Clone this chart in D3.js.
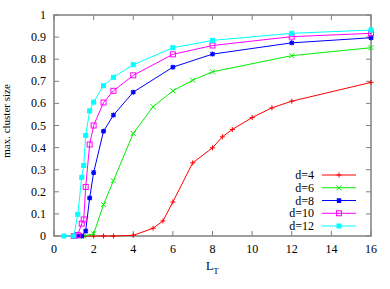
<!DOCTYPE html>
<meta charset="utf-8">
<head>
  <title>max. cluster size</title>
</head>

<style>
body { margin: 0; background: #fff; }
text { font-family: "Liberation Serif", "DejaVu Serif", serif; fill: #000; }
.frame { fill: none; stroke: #808080; stroke-width: 1.5; }
.tick { stroke: #808080; stroke-width: 1; }
.series { fill: none; stroke-width: 1; }
</style>

<body>
  <svg width="390" height="289"></svg>

  <script src="https://cdnjs.cloudflare.com/ajax/libs/d3/7.8.5/d3.min.js"></script>
  <script>

// values
var names = ["d=4", "d=6", "d=8", "d=10", "d=12"];
var colors = ["#ff0000", "#00ee00", "#0000ff", "#ff00ff", "#00ffff"];
var markers = ["plus", "cross", "star", "openSquare", "filledSquare"];

var lt4 = [1.5, 2, 2.5, 3, 4, 5, 5.5, 6, 7, 8, 8.5, 9, 10, 11, 12, 16];
var val4 = [0, 0, 0, 0, 0.003, 0.035, 0.068, 0.154, 0.331, 0.399, 0.449, 0.482, 0.536, 0.58, 0.61, 0.695];

var lt6 = [1.5, 2, 2.5, 3, 4, 5, 6, 7, 8, 12, 16];
var val6 = [0, 0.01, 0.142, 0.25, 0.464, 0.585, 0.657, 0.705, 0.743, 0.816, 0.852];

var lt8 = [1.2, 1.4, 1.6, 1.8, 2, 2.5, 3, 4, 6, 8, 12, 16];
var val8 = [0, 0, 0.023, 0.172, 0.287, 0.474, 0.547, 0.651, 0.764, 0.823, 0.874, 0.897];

var lt10 = [1, 1.2, 1.4, 1.5, 1.6, 1.8, 2, 2.5, 3, 4, 6, 8, 12, 16];
var val10 = [0, 0.005, 0.056, 0.075, 0.222, 0.414, 0.5, 0.604, 0.657, 0.727, 0.822, 0.862, 0.902, 0.917];

var lt12 = [0.5, 1, 1.2, 1.4, 1.5, 1.6, 1.8, 2, 2.5, 3, 4, 6, 8, 12, 16];
var val12 = [0, 0, 0.098, 0.265, 0.319, 0.455, 0.566, 0.606, 0.68, 0.718, 0.775, 0.852, 0.885, 0.917, 0.932];

var xTicks = [0, 2, 4, 6, 8, 10, 12, 14, 16];
var yTicks = [0, 0.1, 0.2, 0.3, 0.4, 0.5, 0.6, 0.7, 0.8, 0.9, 1];

var allLt = [lt4, lt6, lt8, lt10, lt12];
var allVal = [val4, val6, val8, val10, val12];

const series = names.map((n, i) => ({
  name: n,
  color: colors[i],
  marker: markers[i],
  points: allLt[i].map((l, j) => [l, allVal[i][j]])
}));

const pLeft = 54, pRight = 371, pTop = 15, pBottom = 236;

const x = d3.scaleLinear().domain([0, 16]).range([pLeft, pRight]);
const y = d3.scaleLinear().domain([0, 1]).range([pBottom, pTop]);

const svg = d3.select('svg');

// ticks on all four sides, pointing in
const tickLen = 5;
const ticks = svg.append('g');
xTicks.forEach(t => {
  ticks.append('line').attr('class', 'tick')
    .attr('x1', x(t)).attr('x2', x(t)).attr('y1', pBottom).attr('y2', pBottom - tickLen);
  ticks.append('line').attr('class', 'tick')
    .attr('x1', x(t)).attr('x2', x(t)).attr('y1', pTop).attr('y2', pTop + tickLen);
  ticks.append('text')
    .attr('x', x(t)).attr('y', 253)
    .attr('text-anchor', 'middle')
    .attr('font-size', 12)
    .text(t);
});
yTicks.forEach(t => {
  ticks.append('line').attr('class', 'tick')
    .attr('x1', pLeft).attr('x2', pLeft + tickLen).attr('y1', y(t)).attr('y2', y(t));
  ticks.append('line').attr('class', 'tick')
    .attr('x1', pRight).attr('x2', pRight - tickLen).attr('y1', y(t)).attr('y2', y(t));
  ticks.append('text')
    .attr('x', pLeft - 8).attr('y', y(t) + 4)
    .attr('text-anchor', 'end')
    .attr('font-size', 12)
    .text(t);
});

svg.append('rect').attr('class', 'frame')
  .attr('x', pLeft).attr('y', pTop)
  .attr('width', pRight - pLeft).attr('height', pBottom - pTop);

// axis titles
const xl = svg.append('text')
  .attr('x', 206).attr('y', 270)
  .attr('font-size', 12);
xl.append('tspan').text('L');
xl.append('tspan').attr('font-size', 9).attr('dy', 4).text('T');

svg.append('text')
  .attr('transform', 'translate(10,121) rotate(-90)')
  .attr('text-anchor', 'middle')
  .attr('font-size', 11)
  .text('max. cluster size');

function drawMarker(g, type, color) {
  if (type === 'plus') {
    g.append('path').attr('d', 'M-2.5,0H2.5M0,-2.5V2.5').attr('stroke', color).attr('fill', 'none');
  } else if (type === 'cross') {
    g.append('path').attr('d', 'M-2.5,-2.5L2.5,2.5M-2.5,2.5L2.5,-2.5').attr('stroke', color).attr('fill', 'none');
  } else if (type === 'star') {
    g.append('path').attr('d', 'M-2.5,0H2.5M0,-2.5V2.5M-2,-2L2,2M-2,2L2,-2').attr('stroke', color).attr('stroke-width', 1.3).attr('fill', 'none');
  } else if (type === 'openSquare') {
    g.append('rect').attr('x', -2.5).attr('y', -2.5).attr('width', 5).attr('height', 5)
      .attr('stroke', color).attr('fill', 'none');
  } else {
    g.append('rect').attr('x', -2).attr('y', -2).attr('width', 4).attr('height', 4)
      .attr('stroke', color).attr('fill', color);
  }
}

const line = d3.line().x(d => x(d[0])).y(d => y(d[1]));

series.forEach(s => {
  svg.append('path').attr('class', 'series')
    .attr('d', line(s.points))
    .attr('stroke', s.color);
  s.points.forEach(p => {
    const g = svg.append('g').attr('transform', `translate(${x(p[0])},${y(p[1])})`);
    drawMarker(g, s.marker, s.color);
  });
});

// legend
const legend = svg.append('g');
series.forEach((s, i) => {
  const ly = 175 + i * 12.75;
  legend.append('text')
    .attr('x', 314).attr('y', ly + 4)
    .attr('text-anchor', 'end')
    .attr('font-size', 12)
    .text(s.name);
  legend.append('line')
    .attr('x1', 322).attr('x2', 356).attr('y1', ly).attr('y2', ly)
    .attr('stroke', s.color).attr('stroke-width', 1);
  const g = legend.append('g').attr('transform', `translate(339,${ly})`);
  drawMarker(g, s.marker, s.color);
});

  </script>
</body>
</html>
